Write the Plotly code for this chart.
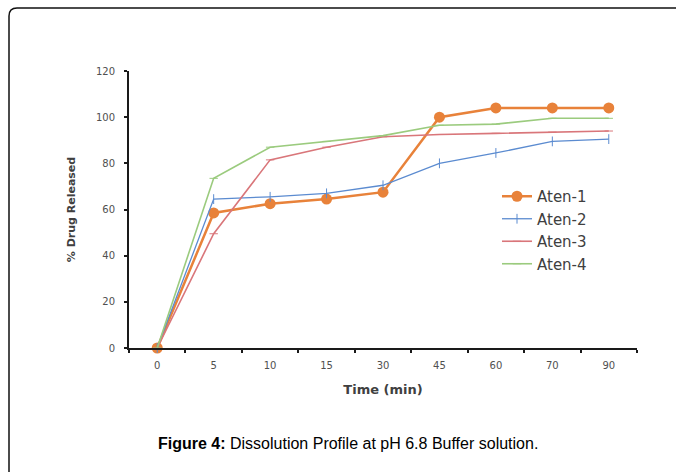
import plotly.graph_objects as go

time_labels = ["0", "5", "10", "15", "30", "45", "60", "70", "90"]
aten1 = [0, 58.5, 62.5, 64.5, 67.5, 100, 104, 104, 104]
aten2 = [0, 64.5, 65.5, 67, 70.5, 80, 84.5, 89.5, 90.5]
aten3 = [0, 49.5, 81.5, 87, 91.5, 92.5, 93, 93.5, 94]
aten4 = [0, 73.5, 87, 89.5, 92, 96.5, 97, 99.5, 99.5]
series_names = ["Aten-1", "Aten-2", "Aten-3", "Aten-4"]

W, H = 676, 472
L, R, T, B = 129, 39, 71, 124
PW, PH = W - L - R, H - T - B


def px(x):
    return (x - L) / PW


def py(y):
    return (H - B - y) / PH


fig = go.Figure()
styles = [
    dict(line=dict(color="#E8823A", width=2.5),
         marker=dict(symbol="circle", size=11, color="#E8823A")),
    dict(line=dict(color="#5B8BD0", width=1.3),
         marker=dict(symbol="line-ns", size=7, color="#5B8BD0",
                     line=dict(color="#5B8BD0", width=1))),
    dict(line=dict(color="#D9767A", width=1.6),
         marker=dict(symbol="line-ew", size=6, color="#D9767A",
                     line=dict(color="#D9767A", width=1))),
    dict(line=dict(color="#9BCB7E", width=1.6),
         marker=dict(symbol="line-ew", size=6, color="#9BCB7E",
                     line=dict(color="#9BCB7E", width=1))),
]
for name, vals, st in zip(series_names, [aten1, aten2, aten3, aten4], styles):
    fig.add_trace(go.Scatter(
        x=time_labels, y=vals, name=name, mode="lines+markers",
        cliponaxis=False, **st))

# outer rounded frame (top-left corner visible)
r = 8
path = (f"M {px(9)},{py(490)} L {px(9)},{py(8 + r)} "
        f"Q {px(9)},{py(8)} {px(9 + r)},{py(8)} L {px(700)},{py(8)}")
fig.add_shape(type="path", path=path, xref="paper", yref="paper",
              line=dict(color="#111111", width=1.5), layer="above")

fig.add_annotation(
    text="<b>Figure 4:</b> Dissolution Profile at pH 6.8 Buffer solution.",
    xref="paper", yref="paper", x=px(347.5), y=py(443),
    xanchor="center", yanchor="middle", showarrow=False,
    font=dict(family="Liberation Sans, Arial, sans-serif", size=16, color="#000000"))

fig.update_layout(
    width=W, height=H,
    margin=dict(l=L, r=R, t=T, b=B),
    paper_bgcolor="white", plot_bgcolor="white",
    font=dict(family="DejaVu Sans, sans-serif", color="#404040"),
    showlegend=True,
    legend=dict(x=px(497), y=py(180), xanchor="left", yanchor="top",
                bgcolor="rgba(0,0,0,0)", font=dict(size=15, color="#404040"),
                traceorder="normal", itemwidth=30),
    xaxis=dict(
        type="category", categoryorder="array", categoryarray=time_labels,
        range=[-0.5, 8.5], showline=True, linecolor="#1a1a1a", linewidth=2,
        ticks="outside", ticklen=3, tickcolor="#1a1a1a", tickwidth=2,
        tickson="boundaries", showgrid=False, zeroline=False,
        ticklabelstandoff=7,
        tickfont=dict(size=10, color="#505050"),
        title=dict(text="<b>Time (min)</b>", font=dict(size=13, color="#404040"), standoff=15),
    ),
    yaxis=dict(
        range=[0, 120], dtick=20, showline=True, linecolor="#1a1a1a", linewidth=2,
        ticks="outside", ticklen=3, tickcolor="#1a1a1a", tickwidth=2,
        showgrid=False, zeroline=False,
        ticklabelstandoff=7,
        tickfont=dict(size=10, color="#505050"),
        title=dict(text="<b>% Drug Released</b>", font=dict(size=11, color="#404040"), standoff=18),
    ),
)

fig.write_html("out.html", config={"displayModeBar": False},
               post_script="document.body.style.margin='0';")
